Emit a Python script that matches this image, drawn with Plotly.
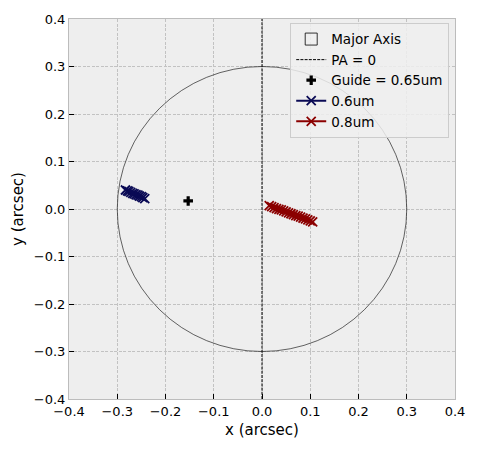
import plotly.graph_objects as go

# Data
major_axis_radius = 0.3
pa_x = [0.0, 0.0]
pa_y = [-0.4, 0.4]
guide_x = [-0.153]
guide_y = [0.017]

blue_x = [-0.283, -0.279, -0.276, -0.272, -0.268, -0.265, -0.261, -0.257, -0.254, -0.250, -0.247, -0.243]
blue_y = [0.040, 0.038, 0.037, 0.035, 0.033, 0.032, 0.030, 0.029, 0.027, 0.026, 0.024, 0.022]

red_x = [0.015, 0.020, 0.025, 0.030, 0.035, 0.040, 0.045, 0.050, 0.055, 0.060,
         0.065, 0.070, 0.075, 0.080, 0.085, 0.090, 0.095, 0.100, 0.105]
red_y = [0.007, 0.005, 0.003, 0.001, -0.001, -0.002, -0.004, -0.006, -0.008, -0.010,
         -0.012, -0.014, -0.015, -0.017, -0.019, -0.021, -0.023, -0.025, -0.027]

tick_vals = [-0.4, -0.3, -0.2, -0.1, 0.0, 0.1, 0.2, 0.3, 0.4]

FONT = "DejaVu Sans"
fig = go.Figure()
# the ellipse itself
fig.add_shape(type="circle", xref="x", yref="y",
              x0=-major_axis_radius, x1=major_axis_radius,
              y0=-major_axis_radius, y1=major_axis_radius,
              line=dict(color="black", width=0.6), fillcolor="rgba(0,0,0,0)",
              showlegend=False, layer="above")
# legend patch for the ellipse (rectangle icon, matplotlib style); zero-size and outside the view
fig.add_shape(type="rect", xref="x", yref="y",
              x0=0.45, x1=0.45, y0=0.45, y1=0.45,
              line=dict(color="black", width=0.8), fillcolor="rgba(0,0,0,0)",
              showlegend=True, name="Major Axis", legendrank=1)
fig.add_trace(go.Scatter(x=pa_x, y=pa_y, mode="lines",
                         line=dict(color="black", width=1, dash="3px,1.2px"), name="PA = 0",
                         legendrank=2))
fig.add_trace(go.Scatter(x=guide_x, y=guide_y, mode="markers",
                         marker=dict(symbol="cross", color="black", size=8),
                         name="Guide = 0.65um", legendrank=3))
fig.add_trace(go.Scatter(x=blue_x, y=blue_y, mode="lines+markers",
                         line=dict(color="#0a0a55", width=2),
                         marker=dict(symbol="x-thin", size=9, line=dict(color="#0a0a55", width=1.8)),
                         name="0.6um", legendrank=4))
fig.add_trace(go.Scatter(x=red_x, y=red_y, mode="lines+markers",
                         line=dict(color="#8b0000", width=2),
                         marker=dict(symbol="x-thin", size=9, line=dict(color="#8b0000", width=1.8)),
                         name="0.8um", legendrank=5))

axis_common = dict(range=[-0.4, 0.4], tickvals=tick_vals, tickformat=".1f",
                   showgrid=True, gridcolor="#c2c2c2", griddash="3px,1.5px", gridwidth=0.8,
                   zeroline=False, showline=True, linecolor="#bcbcbc", linewidth=1, mirror=True,
                   ticks="inside", ticklen=5, tickcolor="black",
                   tickfont=dict(family=FONT, size=13, color="black"))

fig.update_layout(
    width=477, height=449,
    margin=dict(l=69, r=20, t=16, b=50),
    paper_bgcolor="white", plot_bgcolor="#eeeeee",
    font=dict(family=FONT, color="black"),
    xaxis=dict(**axis_common, title=dict(text="x (arcsec)", font=dict(family=FONT, size=15), standoff=6)),
    yaxis=dict(**axis_common, title=dict(text="y (arcsec)", font=dict(family=FONT, size=15), standoff=6)),
    legend=dict(x=0.985, y=0.99, xanchor="right", yanchor="top",
                bgcolor="rgba(238,238,238,0.85)", bordercolor="#cccccc", borderwidth=1,
                font=dict(family=FONT, size=13.5), tracegroupgap=0, itemwidth=30),
    showlegend=True,
)

fig.write_html("out.html")
